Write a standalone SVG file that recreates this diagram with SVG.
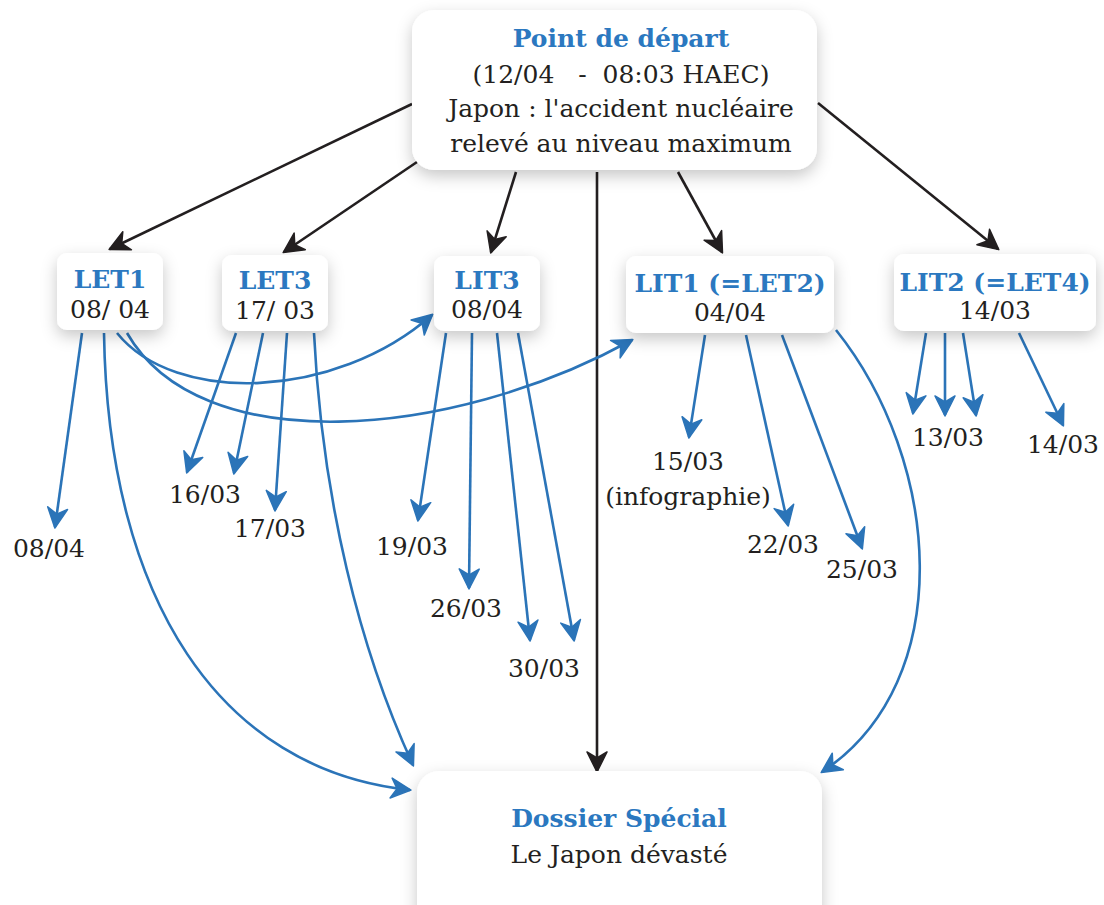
<svg xmlns="http://www.w3.org/2000/svg" width="1104" height="905" viewBox="0 0 1104 905">
<style>
.box{fill:#fff;filter:url(#sh)}
.t{font-family:"DejaVu Serif","Liberation Serif",serif;font-size:25px;fill:#231f20;text-anchor:middle}
.h{font-family:"DejaVu Serif","Liberation Serif",serif;font-size:25px;font-weight:bold;fill:#2b78c0;text-anchor:middle}
.b{fill:none;stroke:#2b74b8;stroke-width:2.6;marker-end:url(#ab)}
.k{fill:none;stroke:#231f20;stroke-width:2.6;marker-end:url(#ak)}
</style>
<defs>
<filter id="sh" x="-20%" y="-20%" width="140%" height="150%">
<feDropShadow dx="0" dy="6" stdDeviation="8" flood-color="#000" flood-opacity="0.22"/>
</filter>
<marker id="ab" viewBox="-24 -14 28 28" markerWidth="28" markerHeight="28" refX="0" refY="0" orient="auto" markerUnits="userSpaceOnUse">
<path d="M1,0 L-19,-10 L-13,0 L-19,10 Z" fill="#2b74b8" stroke="#2b74b8" stroke-width="1.5" stroke-linejoin="round"/>
</marker>
<marker id="ak" viewBox="-24 -14 28 28" markerWidth="28" markerHeight="28" refX="0" refY="0" orient="auto" markerUnits="userSpaceOnUse">
<path d="M1,0 L-19,-10 L-13,0 L-19,10 Z" fill="#231f20" stroke="#231f20" stroke-width="1.5" stroke-linejoin="round"/>
</marker>
</defs>
<rect width="1104" height="905" fill="#fff"/>

<g id="connectors">
<path class="k" d="M412,104 L110,249"/>
<path class="k" d="M417,162 L284,252"/>
<path class="k" d="M516,172 L491,252"/>
<path class="k" d="M597,172 L597,771"/>
<path class="k" d="M678,172 L722,252"/>
<path class="k" d="M818,103 L998,249"/>

<path class="b" d="M82,333 L55,527"/>
<path class="b" d="M104,333 C108,600 220,770 410,790"/>
<path class="b" d="M117,333 C175,405 335,400 432,315"/>
<path class="b" d="M127,333 C200,460 450,440 632,340"/>

<path class="b" d="M236,333 L187,472"/>
<path class="b" d="M263,333 L234,473"/>
<path class="b" d="M287,333 L275,510"/>
<path class="b" d="M314,333 C322,500 360,650 413,765"/>

<path class="b" d="M446,333 L418,520"/>
<path class="b" d="M472,333 L469,588"/>
<path class="b" d="M497,333 L530,640"/>
<path class="b" d="M518,333 L574,640"/>

<path class="b" d="M705,335 L689,437"/>
<path class="b" d="M746,335 L788,525"/>
<path class="b" d="M782,335 L862,548"/>
<path class="b" d="M836,330 C940,460 960,680 822,772"/>

<path class="b" d="M926,333 L913,413"/>
<path class="b" d="M945,333 L945,415"/>
<path class="b" d="M963,333 L976,415"/>
<path class="b" d="M1019,333 L1063,425"/>
</g>

<g id="depart">
<rect class="box" x="412" y="10" width="405" height="160" rx="22"/>
<text class="h" x="621" y="47" font-size="26">Point de départ</text>
<text class="t" x="621" y="83" xml:space="preserve">(12/04   -  08:03 HAEC)</text>
<text class="t" x="621" y="117">Japon : l'accident nucléaire</text>
<text class="t" x="621" y="152">relevé au niveau maximum</text>
</g>

<g id="let1">
<rect class="box" x="57" y="253" width="106" height="77" rx="10"/>
<text class="h" x="110" y="288">LET1</text>
<text class="t" x="110" y="318">08/ 04</text>
</g>
<g id="let3">
<rect class="box" x="222" y="255" width="106" height="76" rx="10"/>
<text class="h" x="275" y="289">LET3</text>
<text class="t" x="275" y="319">17/ 03</text>
</g>
<g id="lit3">
<rect class="box" x="434" y="256" width="106" height="75" rx="10"/>
<text class="h" x="487" y="289">LIT3</text>
<text class="t" x="487" y="318">08/04</text>
</g>
<g id="lit1">
<rect class="box" x="626" y="256" width="208" height="77" rx="10"/>
<text class="h" x="730" y="292">LIT1 (=LET2)</text>
<text class="t" x="730" y="321">04/04</text>
</g>
<g id="lit2">
<rect class="box" x="894" y="254" width="202" height="77" rx="10"/>
<text class="h" x="995" y="291">LIT2 (=LET4)</text>
<text class="t" x="995" y="319">14/03</text>
</g>
<g id="dossier">
<rect class="box" x="417" y="771" width="405" height="160" rx="22"/>
<text class="h" x="619" y="827">Dossier Spécial</text>
<text class="t" x="619" y="863">Le Japon dévasté</text>
</g>

<g id="labels">
<text class="t" x="49" y="557">08/04</text>
<text class="t" x="205" y="503">16/03</text>
<text class="t" x="270" y="537">17/03</text>
<text class="t" x="412" y="555">19/03</text>
<text class="t" x="466" y="617">26/03</text>
<text class="t" x="544" y="677">30/03</text>
<text class="t" x="688" y="470">15/03</text>
<text class="t" x="688" y="505">(infographie)</text>
<text class="t" x="783" y="553">22/03</text>
<text class="t" x="862" y="578">25/03</text>
<text class="t" x="948" y="446">13/03</text>
<text class="t" x="1063" y="453">14/03</text>
</g>
</svg>
